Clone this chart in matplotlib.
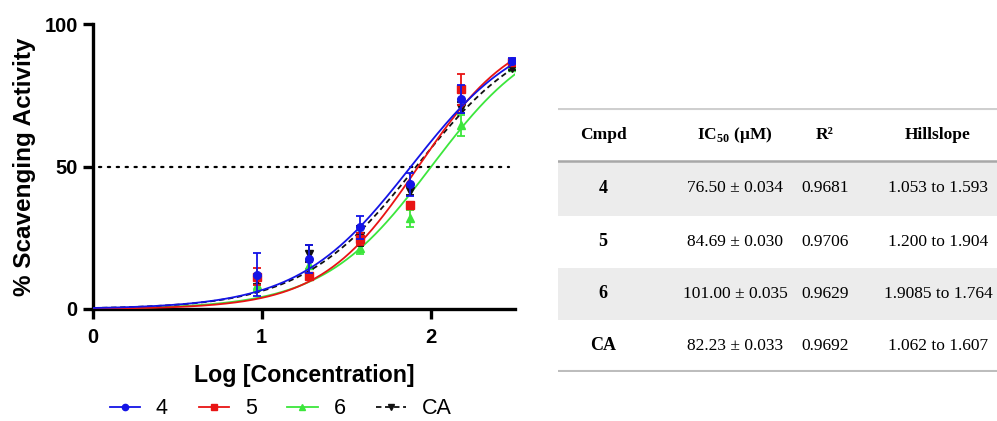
import matplotlib.pyplot as plt
import numpy as np

# 数据
log_conc = [0.97, 1.28, 1.58, 1.88, 2.18, 2.48]

act_4 = [12.0, 17.5, 28.6, 43.8, 73.6, 87.1]
err_4 = [7.5, 4.8, 3.9, 4.0, 5.0, 0.8]
act_5 = [11.4, 11.6, 24.5, 36.6, 77.1, 86.5]
err_5 = [3.0, 1.0, 2.0, 1.0, 5.5, 0.5]
act_6 = [8.4, 15.5, 21.4, 31.9, 64.4, 85.0]
err_6 = [2.0, 1.5, 2.0, 3.0, 3.7, 0.5]
act_ca = [10.2, 19.4, 25.5, 41.5, 70.7, 84.4]
err_ca = [1.5, 3.0, 3.5, 1.5, 2.0, 0.5]

# 拟合参数 (logIC50 来自表格, hill slope 估计)
ic50 = [76.50, 84.69, 101.00, 82.23]
hill = [1.30, 1.50, 1.35, 1.28]
top = [100, 100, 100, 100]

# 表格
tbl_header = ['Cmpd', r'IC$_{\mathbf{50}}$ (μM)', 'R²', 'Hillslope']
tbl_cmpd = ['4', '5', '6', 'CA']
tbl_ic50 = ['76.50 ± 0.034', '84.69 ± 0.030', '101.00 ± 0.035', '82.23 ± 0.033']
tbl_r2 = ['0.9681', '0.9706', '0.9629', '0.9692']
tbl_hill = ['1.053 to 1.593', '1.200 to 1.904', '1.9085 to 1.764', '1.062 to 1.607']

plt.rcParams['font.family'] = ['Liberation Sans', 'DejaVu Sans']
plt.rcParams['mathtext.fontset'] = 'custom'
plt.rcParams['mathtext.rm'] = 'Liberation Serif'
plt.rcParams['mathtext.bf'] = 'Liberation Serif:bold'

W, H = 997, 421
fig = plt.figure(figsize=(W / 100, H / 100), dpi=100)
ax = fig.add_axes([93 / W, 1 - 309 / H, (515 - 93) / W, (309 - 24) / H])

names = ['4', '5', '6', 'CA']
acts = [act_4, act_5, act_6, act_ca]
errs = [err_4, err_5, err_6, err_ca]
colors = ['#1414e6', '#e81414', '#3ce63c', '#111111']
markers = ['o', 's', '^', 'v']
zs = [6, 5, 3, 4]

xx = np.linspace(0, 2.5, 300)
handles = []
for i in range(4):
    logic = np.log10(ic50[i])
    yy = top[i] / (1 + 10 ** ((logic - xx) * hill[i]))
    ls = (0, (3, 2)) if names[i] == 'CA' else '-'
    ax.plot(xx, yy, color=colors[i], lw=1.3, ls=ls, zorder=zs[i])
    ax.errorbar(log_conc, acts[i], yerr=errs[i], fmt=markers[i], color=colors[i],
                ms=5.5, capsize=3, elinewidth=1.3, capthick=1.3, zorder=zs[i] + 0.5)
    h, = ax.plot([], [], color=colors[i], ls=ls, lw=1.3, marker=markers[i], ms=4.5)
    handles.append(h)

ax.axhline(50, xmin=0.015, xmax=0.985, color='black', lw=1.6, ls=(0, (1, 3)),
           dash_capstyle='round', zorder=2)

ax.set_xlim(0, 2.5)
ax.set_ylim(0, 100)
ax.set_xticks([0, 1, 2])
ax.set_yticks([0, 50, 100])
ax.spines['top'].set_visible(False)
ax.spines['right'].set_visible(False)
for s in ['left', 'bottom']:
    ax.spines[s].set_linewidth(2.4)
ax.tick_params(width=2.4, length=7, labelsize=14.5)
ax.tick_params(axis='x', pad=7)
ax.tick_params(axis='y', pad=4)
for lab in ax.get_xticklabels() + ax.get_yticklabels():
    lab.set_fontweight('bold')
ax.set_xlabel('Log [Concentration]', fontsize=16.7, fontweight='bold', labelpad=12)
ax.set_ylabel('% Scavenging Activity', fontsize=17.5, fontweight='bold', labelpad=6)

fig.legend(handles, names, loc='center', bbox_to_anchor=(281 / W, 1 - 409 / H),
           ncol=4, frameon=False, fontsize=15.5, handlelength=1.4,
           handletextpad=0.74, columnspacing=1.43, borderpad=0.1)

# 表格
tx = fig.add_axes([558 / W, 1 - 372 / H, (997 - 558) / W, (372 - 108) / H])
tx.set_xlim(558, 997)
tx.set_ylim(372, 108)
tx.axis('off')
row_edges = [161, 216, 268, 320, 372]
for r in range(4):
    if r % 2 == 0:
        tx.axhspan(row_edges[r], row_edges[r + 1], color='#ececec', lw=0, zorder=0)
tx.axhline(109, color='#cfcfcf', lw=1.5)
tx.axhline(160.5, color='#a8a8a8', lw=1.8)
tx.axhline(371, color='#bdbdbd', lw=1.5)

col_x = [603, 735, 825, 938]
serif = ['Liberation Serif', 'DejaVu Serif']
for c, txt in enumerate(tbl_header):
    tx.text(col_x[c], 135, txt, ha='center', va='center', fontsize=12.5,
            fontweight='bold', family=serif)
for r in range(4):
    yc = (row_edges[r] + row_edges[r + 1]) / 2
    tx.text(col_x[0], yc, tbl_cmpd[r], ha='center', va='center', fontsize=13,
            fontweight='bold', family=serif)
    tx.text(col_x[1], yc, tbl_ic50[r], ha='center', va='center', fontsize=12.5,
            family=serif)
    tx.text(col_x[2], yc, tbl_r2[r], ha='center', va='center', fontsize=12.5,
            family=serif)
    tx.text(col_x[3], yc, tbl_hill[r], ha='center', va='center', fontsize=12.5,
            family=serif)

plt.savefig('out.png', dpi=100)
